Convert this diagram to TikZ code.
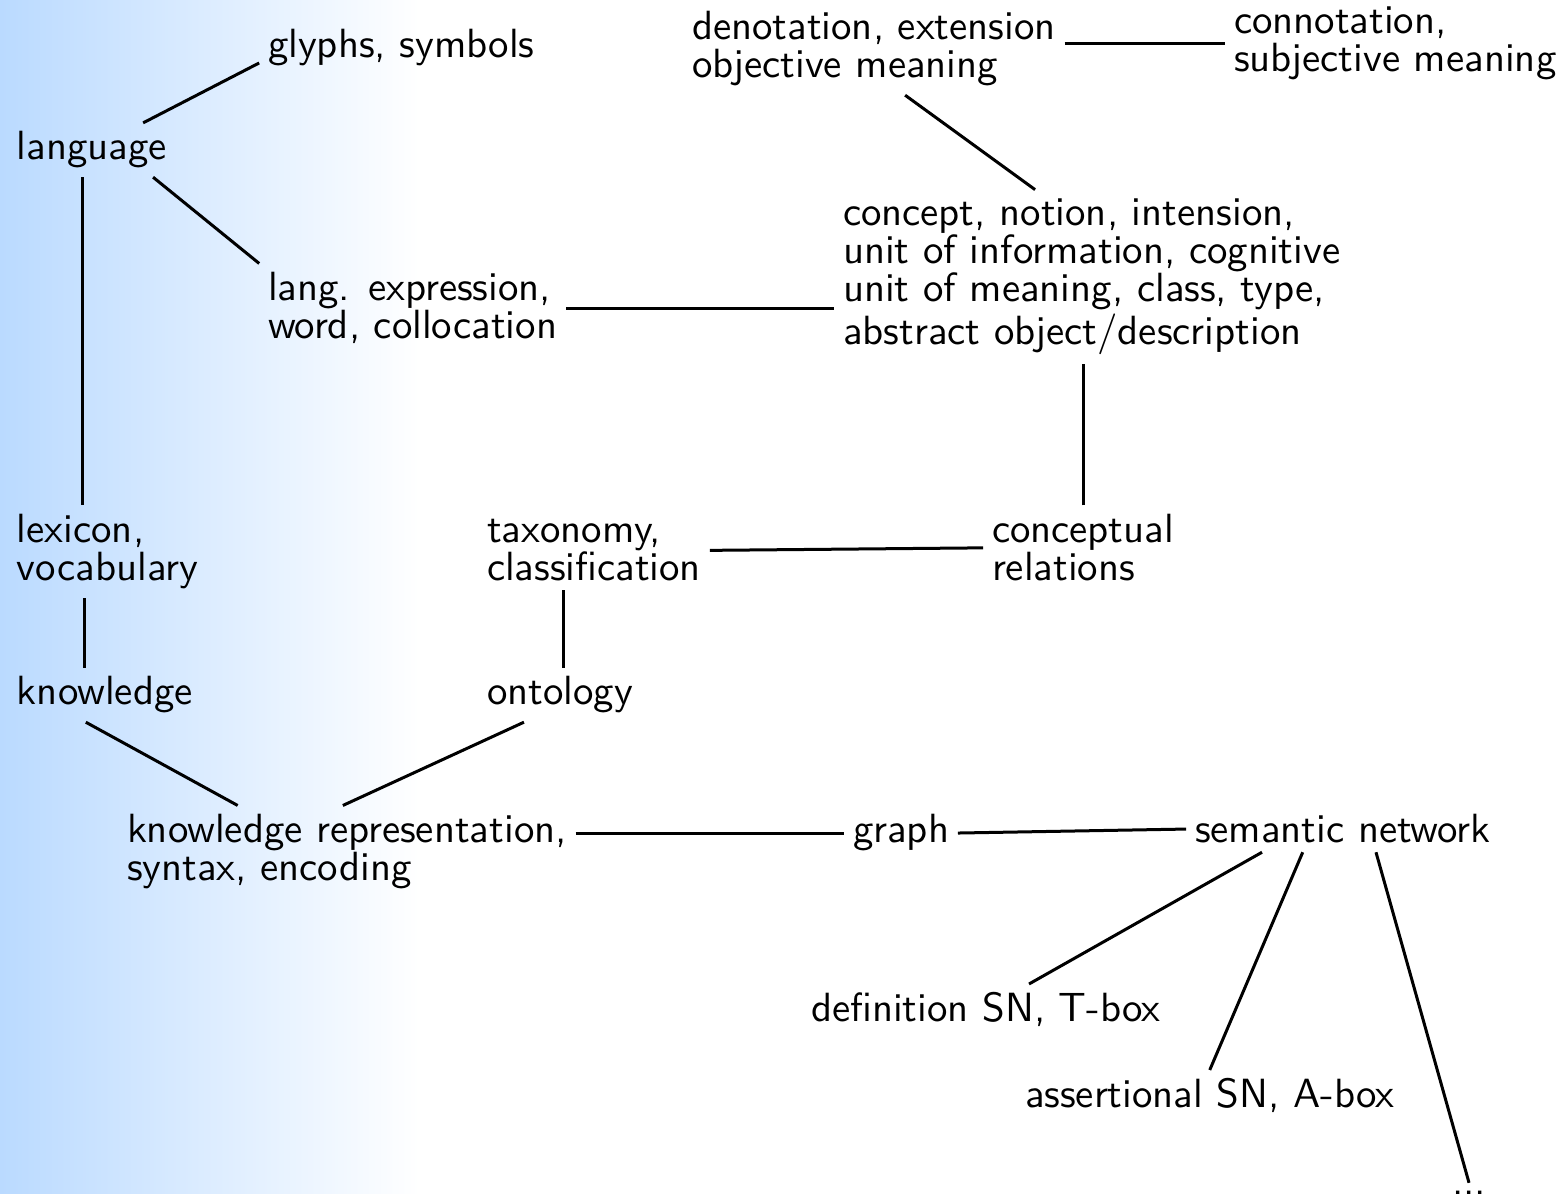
\documentclass[tikz,border=0pt]{standalone}
\usepackage{fontspec}
\usepackage{tikz}
\definecolor{bgblue}{RGB}{186,218,255}

\begin{document}
\begin{tikzpicture}[x=0.25pt,y=-0.25pt,
	every node/.style={font=\sffamily\fontsize{10.2}{9.6}\selectfont, align=left, anchor=text, inner sep=2pt},
	link/.style={line width=0.75pt}]
	\useasboundingbox (0,0) rectangle (1562,1194);
	\shade[left color=bgblue, right color=white] (0,0) rectangle (420,1194);

	\node (language) at (17,160) {language};
	\node (glyphs) at (268,58) {glyphs, symbols};
	\node (langexpr) at (268,339) {lang. expression,\\word, collocation};
	\node (denot) at (692,78) {denotation, extension\\objective meaning};
	\node (connot) at (1234,72) {connotation,\\subjective meaning};
	\node (concept) at (843,345) {concept, notion, intension,\\unit of information, cognitive\\unit of meaning, class, type,\\abstract object/description};
	\node (lexicon) at (17,581) {lexicon,\\vocabulary};
	\node (taxonomy) at (487,581) {taxonomy,\\classification};
	\node (relations) at (992,581) {conceptual\\relations};
	\node (knowledge) at (17,705) {knowledge};
	\node (ontology) at (487,705) {ontology};
	\node (kr) at (127,881) {knowledge representation,\\syntax, encoding};
	\node (graph) at (853,843) {graph};
	\node (semnet) at (1195,843) {semantic network};
	\node (tbox) at (811,1022) {definition SN, T-box};
	\node (abox) at (1025,1108) {assertional SN, A-box};
	\node (more) at (1452,1195) {...};

	\draw[link] (language.28) -- (glyphs.186);
	\draw[link] (language.-24) -- (langexpr.north west);
	\draw[link] (language.-109) -- (language.-109 |- lexicon.north);
	\draw[link] (lexicon.-117) -- (lexicon.-117 |- knowledge.north);
	\draw[link] (knowledge.-125) -- (kr.157);
	\draw[link] (ontology.-143) -- (kr.95);
	\draw[link] (langexpr.east) -- (concept.west |- langexpr.east);
	\draw[link] (connot.west -| denot.east) -- (connot.west);
	\draw[link] (denot.-56) -- (concept.123);
	\draw[link] (relations.north) -- (relations.north |- concept.south);
	\draw[link] (taxonomy.east) -- (relations.west);
	\draw[link] (taxonomy.-127) -- (taxonomy.-127 |- ontology.north);
	\draw[link] (graph.west -| kr.east) -- (graph.west);
	\draw[link] (graph.east) -- (semnet.west);
	\draw[link] (semnet.-164) -- (tbox.31);
	\draw[link] (semnet.-150) -- (abox.north);
	\draw[link] (semnet.-35) -- (more.north);
\end{tikzpicture}
\end{document}
